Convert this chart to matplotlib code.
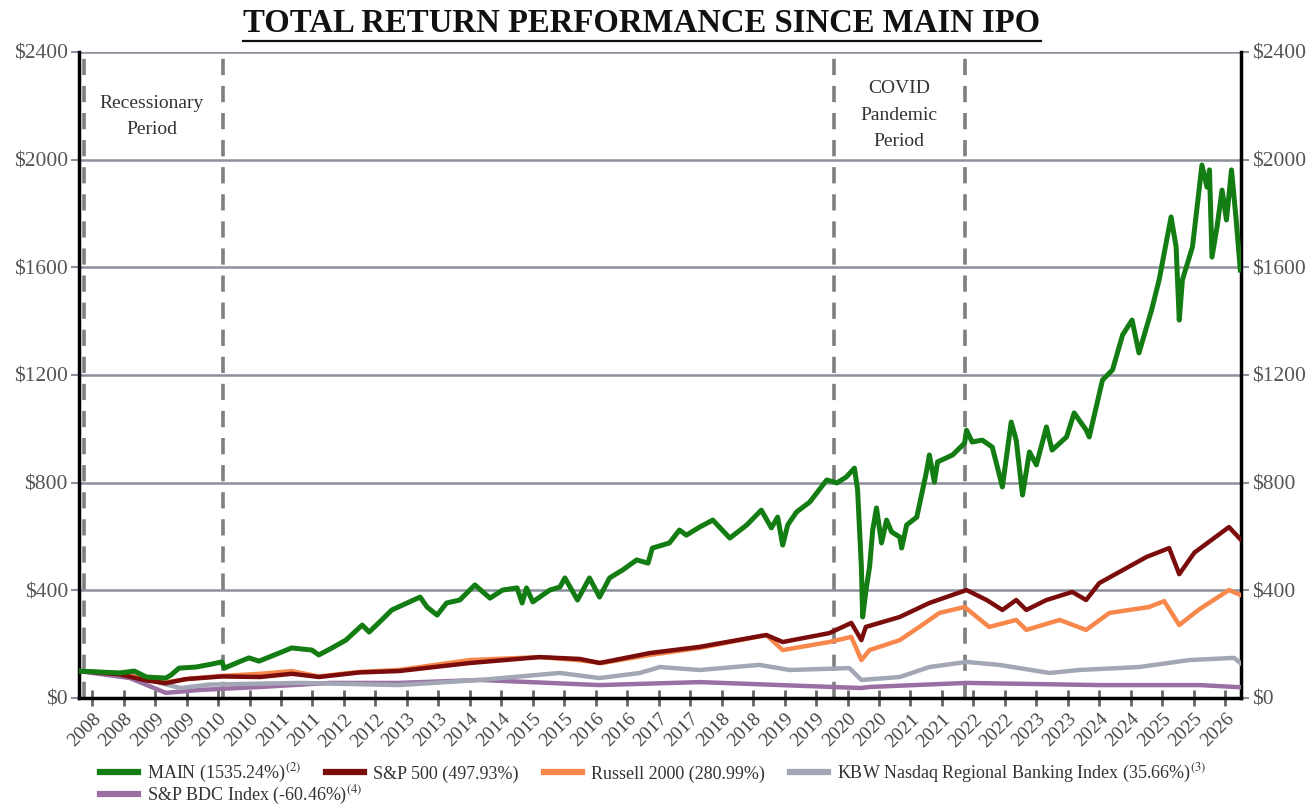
import numpy as np
import matplotlib
matplotlib.use("Agg")
import matplotlib.pyplot as plt
from matplotlib.lines import Line2D

plt.rcParams['font.family'] = ['Liberation Serif', 'DejaVu Serif']
plt.rcParams['mathtext.fontset'] = 'stix'

# values (x in fractional years, y in $)
main_x = [2007.79, 2008.43, 2008.67, 2008.86, 2009.17, 2009.25, 2009.38, 2009.65, 2009.90, 2010.06,
          2010.10, 2010.33, 2010.49, 2010.65, 2010.97, 2011.17, 2011.49, 2011.60, 2011.81, 2012.03,
          2012.29, 2012.40, 2012.60, 2012.76, 2013.21, 2013.32, 2013.48, 2013.63, 2013.84, 2014.08,
          2014.32, 2014.52, 2014.75, 2014.83, 2014.90, 2015.00, 2015.27, 2015.43, 2015.51, 2015.71,
          2015.90, 2016.06, 2016.22, 2016.43, 2016.65, 2016.83, 2016.90, 2017.17, 2017.33, 2017.44,
          2017.65, 2017.86, 2018.13, 2018.40, 2018.63, 2018.79, 2018.89, 2018.97, 2019.05, 2019.19,
          2019.40, 2019.67, 2019.83, 2019.98, 2020.11, 2020.16, 2020.22, 2020.24, 2020.30, 2020.35,
          2020.40, 2020.46, 2020.54, 2020.62, 2020.70, 2020.83, 2020.86, 2020.94, 2021.10, 2021.25,
          2021.30, 2021.38, 2021.43, 2021.67, 2021.86, 2021.89, 2021.98, 2022.14, 2022.30, 2022.46,
          2022.60, 2022.68, 2022.78, 2022.89, 2023.00, 2023.16, 2023.25, 2023.48, 2023.60, 2023.79,
          2023.84, 2024.05, 2024.21, 2024.37, 2024.52, 2024.63, 2024.83, 2024.95, 2025.14, 2025.22,
          2025.27, 2025.32, 2025.48, 2025.59, 2025.63, 2025.71, 2025.75, 2025.79, 2025.87, 2025.95,
          2026.02, 2026.10, 2026.17, 2026.24]
main_y = [100, 93, 100, 78, 74, 85, 111, 115, 126, 134,
          111, 134, 149, 137, 167, 186, 178, 160, 186, 215,
          271, 245, 290, 327, 375, 338, 308, 353, 364, 420,
          371, 401, 409, 353, 409, 357, 401, 412, 446, 364,
          446, 375, 446, 476, 513, 501, 557, 576, 624, 605,
          635, 661, 594, 643, 698, 632, 672, 568, 643, 691,
          728, 810, 799, 821, 854, 773, 487, 301, 412, 487,
          624, 706, 576, 661, 617, 598, 557, 643, 672, 836,
          903, 802, 877, 903, 947, 995, 951, 958, 932, 784,
          1025, 958, 754, 914, 866, 1007, 921, 970, 1059, 996,
          970, 1181, 1219, 1349, 1404, 1282, 1441, 1553, 1787, 1676,
          1404, 1553, 1676, 1898, 1980, 1898, 1962, 1638, 1750, 1887,
          1776, 1962, 1787, 1590]

sp_x = [2007.79, 2008.43, 2008.86, 2009.17, 2009.48, 2010.06, 2010.67, 2011.17, 2011.60, 2012.25,
        2012.87, 2014.00, 2015.11, 2015.75, 2016.06, 2016.86, 2017.65, 2018.71, 2018.97, 2019.71,
        2020.06, 2020.22, 2020.29, 2020.83, 2021.30, 2021.89, 2022.21, 2022.46, 2022.68, 2022.84,
        2023.16, 2023.57, 2023.79, 2024.00, 2024.75, 2025.11, 2025.27, 2025.51, 2026.06, 2026.24]
sp_y = [100, 88, 65, 55, 70, 80, 78, 90, 78, 95,
        100, 130, 152, 145, 130, 167, 190, 234, 208, 241,
        279, 215, 264, 301, 353, 401, 364, 327, 364, 327,
        364, 394, 364, 427, 524, 557, 460, 540, 635, 590]

rus_x = [2007.79, 2008.43, 2008.86, 2009.17, 2009.56, 2010.06, 2010.67, 2011.17, 2011.60, 2012.25,
         2012.87, 2014.00, 2015.11, 2015.75, 2016.10, 2016.86, 2017.65, 2018.71, 2018.97, 2019.71,
         2020.06, 2020.22, 2020.35, 2020.83, 2021.14, 2021.46, 2021.86, 2022.25, 2022.68, 2022.84,
         2023.37, 2023.79, 2024.16, 2024.79, 2025.03, 2025.27, 2025.59, 2026.06, 2026.24]
rus_y = [100, 93, 70, 58, 72, 82, 90, 100, 80, 97,
         104, 141, 152, 140, 130, 160, 186, 234, 178, 208,
         227, 141, 178, 215, 264, 316, 338, 264, 290, 253,
         290, 253, 316, 338, 360, 271, 330, 401, 383]

kbw_x = [2007.79, 2008.43, 2008.76, 2009.08, 2009.40, 2009.87, 2010.35, 2011.30, 2012.87, 2014.16,
         2015.43, 2016.06, 2016.70, 2017.02, 2017.65, 2018.60, 2019.08, 2020.03, 2020.22, 2020.83,
         2021.30, 2021.89, 2022.41, 2023.21, 2023.68, 2024.63, 2025.43, 2026.14, 2026.24]
kbw_y = [100, 90, 85, 56, 37, 50, 52, 56, 48, 67,
         93, 74, 93, 115, 104, 123, 104, 111, 67, 78,
         115, 134, 123, 93, 104, 115, 141, 149, 130]

bdc_x = [2007.79, 2008.60, 2009.17, 2009.71, 2010.67, 2011.78, 2012.87, 2014.16, 2016.06, 2017.65,
         2020.22, 2020.35, 2021.89, 2024.00, 2025.59, 2026.24]
bdc_y = [100, 74, 19, 30, 41, 56, 56, 67, 48, 59,
         37, 41, 56, 48, 48, 40]

period_lines = [2007.87, 2010.08, 2019.78, 2021.87]
yticks = [0, 400, 800, 1200, 1600, 2000, 2400]
xticks = [2008 + 0.5 * i for i in range(37)]
xlabels = [str(int(t)) for t in xticks]

fig = plt.figure(figsize=(13.14, 8.06), dpi=100)
ax = fig.add_axes([0.0601, 0.134, 0.8843, 0.8015])

for yv in yticks:
    ax.axhline(yv, color='#8c909c', lw=1.8, zorder=1)
for xv in period_lines:
    ax.axvline(xv, color='#7f7f7f', lw=2.6, ls=(0, (4.5, 3)), zorder=2)

ax.plot(bdc_x, bdc_y, color='#9b6fa3', lw=3.2, zorder=3)
ax.plot(kbw_x, kbw_y, color='#a3a7b5', lw=3.2, zorder=3)
ax.plot(rus_x, rus_y, color='#f7874a', lw=3.2, zorder=4)
ax.plot(sp_x, sp_y, color='#7b0c0c', lw=3.2, zorder=4)
ax.plot(main_x, main_y, color='#137d13', lw=3.6, zorder=5)

ax.set_xlim(2007.79, 2026.25)
ax.set_ylim(0, 2400)
ax.set_yticks(yticks)
ax.set_yticklabels(['$' + str(v) for v in yticks])
ax.set_xticks(xticks)
ax.set_xticklabels(xlabels, rotation=45, ha='right', rotation_mode='anchor')

ax.tick_params(axis='y', which='both', left=True, right=True, labelleft=True, labelright=True,
               length=6, width=1.5, color='#8c909c', labelsize=15.5, labelcolor='#555555', pad=2)
ax.tick_params(axis='x', direction='inout', length=12, width=2, color='#666666',
               labelsize=14, labelcolor='#444444', pad=3)

for side in ['left', 'right', 'bottom']:
    ax.spines[side].set_color('black')
    ax.spines[side].set_linewidth(2.5)
ax.spines['top'].set_visible(False)

ax.text(2008.95, 2160, 'Recessionary\nPeriod', ha='center', va='center',
        fontsize=14, color='#333333', linespacing=1.75)
ax.text(2020.82, 2165, 'COVID\nPandemic\nPeriod', ha='center', va='center',
        fontsize=14, color='#333333', linespacing=1.75)

title = fig.text(0.4886, 0.971, 'TOTAL RETURN PERFORMANCE SINCE MAIN IPO', ha='center', va='center',
                 fontsize=23.6, fontweight='bold', color='#111111')
fig.canvas.draw()
bb = title.get_window_extent(fig.canvas.get_renderer()).transformed(fig.transFigure.inverted())
fig.add_artist(Line2D([bb.x0, bb.x1], [bb.y0 - 0.003, bb.y0 - 0.003],
                      transform=fig.transFigure, color='#111111', lw=1.6))

row1_handles = [
    Line2D([], [], color='#137d13', lw=4.5),
    Line2D([], [], color='#7b0c0c', lw=4.5),
    Line2D([], [], color='#f7874a', lw=4.5),
    Line2D([], [], color='#a3a7b5', lw=4.5),
]
row1_labels = [
    'MAIN (1535.24%)$^{(2)}$',
    'S&P 500 (497.93%)',
    'Russell 2000 (280.99%)',
    'KBW Nasdaq Regional Banking Index (35.66%)$^{(3)}$',
]
leg_kw = dict(frameon=False, fontsize=13, handlelength=2.1, columnspacing=1.4,
              handletextpad=0.5, borderaxespad=0.0, borderpad=0.0, labelcolor='#333333')
fig.legend(row1_handles, row1_labels, loc='center left', bbox_to_anchor=(0.076, 0.040),
           ncol=4, **leg_kw)
fig.legend([Line2D([], [], color='#9b6fa3', lw=4.5)], ['S&P BDC Index (-60.46%)$^{(4)}$'],
           loc='center left', bbox_to_anchor=(0.076, 0.0135), **leg_kw)

fig.savefig('out.png', dpi=100)
